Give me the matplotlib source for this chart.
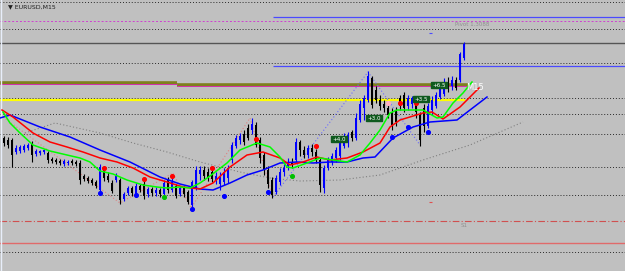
import matplotlib.pyplot as plt
import numpy as np

# EURUSD M15 candles (price)
opens = [1.2971, 1.2969, 1.2969, 1.2957, 1.2958, 1.2959, 1.2961, 1.2966, 1.2955, 1.2956,
         1.2957, 1.2956, 1.2950, 1.2949, 1.2948, 1.2945, 1.2946, 1.2948, 1.2947, 1.2946,
         1.2933, 1.2931, 1.2929, 1.2927, 1.2919, 1.2939, 1.2933, 1.2926, 1.2929, 1.2929,
         1.2910, 1.2916, 1.2921, 1.2914, 1.2923, 1.2925, 1.2915, 1.2920, 1.2916, 1.2919,
         1.2915, 1.2929, 1.2919, 1.2923, 1.2915, 1.2921, 1.2917, 1.2904, 1.2921, 1.2935,
         1.2939, 1.2937, 1.2937, 1.2929, 1.2925, 1.2927, 1.2931, 1.2949, 1.2963, 1.2969,
         1.2975, 1.2981, 1.2979, 1.2984, 1.2969, 1.2954, 1.2939, 1.2929, 1.2917, 1.2927,
         1.2937, 1.2943, 1.2947, 1.2949, 1.2967, 1.2959, 1.2954, 1.2961, 1.2957, 1.2949,
         1.2921, 1.2941, 1.2947, 1.2951, 1.2953, 1.2963, 1.2969, 1.2977, 1.2971, 1.2989,
         1.3001, 1.3009, 1.3031, 1.3019, 1.3009, 1.3005, 1.3001, 1.2997, 1.2999, 1.3011,
         1.3014, 1.3003, 1.3005, 1.3009, 1.2994, 1.3001, 1.2983, 1.2999, 1.3003, 1.3012,
         1.3015, 1.3027, 1.3023, 1.3029, 1.3029, 1.3051]
closes = [1.2966, 1.2964, 1.2954, 1.2961, 1.2962, 1.2963, 1.2964, 1.2954, 1.2958, 1.2958,
          1.2959, 1.2949, 1.2948, 1.2947, 1.2946, 1.2948, 1.2947, 1.2946, 1.2945, 1.2929,
          1.2930, 1.2928, 1.2926, 1.2923, 1.2942, 1.2931, 1.2929, 1.2918, 1.2933, 1.2909,
          1.2915, 1.2921, 1.2916, 1.2923, 1.2919, 1.2913, 1.2920, 1.2916, 1.2919, 1.2915,
          1.2926, 1.2919, 1.2927, 1.2913, 1.2921, 1.2915, 1.2907, 1.2927, 1.2939, 1.2939,
          1.2933, 1.2931, 1.2930, 1.2933, 1.2933, 1.2937, 1.2941, 1.2964, 1.2971, 1.2973,
          1.2967, 1.2971, 1.2985, 1.2964, 1.2951, 1.2939, 1.2925, 1.2914, 1.2931, 1.2937,
          1.2941, 1.2947, 1.2944, 1.2967, 1.2959, 1.2954, 1.2961, 1.2957, 1.2949, 1.2924,
          1.2941, 1.2949, 1.2953, 1.2959, 1.2967, 1.2971, 1.2974, 1.2971, 1.2991, 1.3005,
          1.3011, 1.3033, 1.3004, 1.3009, 1.3003, 1.3001, 1.2994, 1.2984, 1.2987, 1.3003,
          1.3001, 1.3011, 1.3011, 1.2997, 1.2969, 1.2983, 1.3003, 1.3009, 1.3014, 1.3021,
          1.3027, 1.3022, 1.3029, 1.3021, 1.3055, 1.3065]
highs = [1.2973, 1.2972, 1.2971, 1.2964, 1.2964, 1.2965, 1.2966, 1.2968, 1.2960, 1.2959,
         1.2960, 1.2958, 1.2952, 1.2951, 1.2950, 1.2950, 1.2949, 1.2950, 1.2949, 1.2949,
         1.2935, 1.2933, 1.2931, 1.2929, 1.2945, 1.2941, 1.2937, 1.2929, 1.2936, 1.2931,
         1.2917, 1.2923, 1.2923, 1.2926, 1.2925, 1.2928, 1.2922, 1.2922, 1.2922, 1.2921,
         1.2929, 1.2932, 1.2931, 1.2925, 1.2923, 1.2923, 1.2919, 1.2929, 1.2943, 1.2943,
         1.2943, 1.2941, 1.2941, 1.2937, 1.2937, 1.2941, 1.2944, 1.2967, 1.2974, 1.2976,
         1.2979, 1.2985, 1.2991, 1.2987, 1.2972, 1.2957, 1.2943, 1.2932, 1.2934, 1.2941,
         1.2945, 1.2951, 1.2951, 1.2971, 1.2969, 1.2963, 1.2964, 1.2965, 1.2960, 1.2952,
         1.2944, 1.2952, 1.2956, 1.2962, 1.2972, 1.2976, 1.2977, 1.2979, 1.2996, 1.3009,
         1.3014, 1.3038, 1.3033, 1.3023, 1.3014, 1.3009, 1.3004, 1.3001, 1.3002, 1.3014,
         1.3017, 1.3014, 1.3013, 1.3011, 1.2997, 1.3005, 1.3006, 1.3013, 1.3017, 1.3024,
         1.3031, 1.3032, 1.3033, 1.3032, 1.3057, 1.3067]
lows = [1.2963, 1.2961, 1.2942, 1.2955, 1.2956, 1.2957, 1.2959, 1.2947, 1.2953, 1.2954,
        1.2955, 1.2946, 1.2946, 1.2945, 1.2944, 1.2943, 1.2944, 1.2944, 1.2943, 1.2925,
        1.2928, 1.2926, 1.2924, 1.2921, 1.2916, 1.2928, 1.2927, 1.2916, 1.2927, 1.2905,
        1.2908, 1.2914, 1.2913, 1.2912, 1.2917, 1.2910, 1.2912, 1.2913, 1.2913, 1.2912,
        1.2914, 1.2916, 1.2917, 1.2911, 1.2913, 1.2912, 1.2905, 1.2901, 1.2919, 1.2929,
        1.2929, 1.2928, 1.2927, 1.2925, 1.2919, 1.2924, 1.2926, 1.2946, 1.2961, 1.2965,
        1.2964, 1.2969, 1.2975, 1.2962, 1.2946, 1.2934, 1.2921, 1.2911, 1.2915, 1.2924,
        1.2933, 1.2939, 1.2941, 1.2947, 1.2953, 1.2951, 1.2951, 1.2953, 1.2946, 1.2917,
        1.2916, 1.2939, 1.2944, 1.2947, 1.2949, 1.2961, 1.2962, 1.2968, 1.2969, 1.2987,
        1.2989, 1.3007, 1.3001, 1.3006, 1.2999, 1.2997, 1.2991, 1.2979, 1.2983, 1.2999,
        1.2997, 1.2999, 1.3001, 1.2991, 1.2963, 1.2977, 1.2981, 1.2995, 1.3001, 1.3010,
        1.3013, 1.3017, 1.3019, 1.3019, 1.3027, 1.3049]

# alligator lines (bar index, price)
jaw_x = [-1, 1.5, 9, 16.5, 24, 31.5, 39, 44, 49, 52.25, 56.5, 60.75, 64.75, 69, 73.25,
         77.25, 81.5, 85.75, 89.75, 92.75, 97.25, 102.25, 106.5, 113.25, 116.5, 120.75]
jaw_y = [1.2991, 1.2994, 1.2982, 1.2972, 1.2959, 1.2947, 1.2932, 1.2925, 1.2920, 1.2919,
         1.2926, 1.2934, 1.2939, 1.2946, 1.2947, 1.2946, 1.2947, 1.2947, 1.2951, 1.2952,
         1.2971, 1.2982, 1.2987, 1.2989, 1.2999, 1.3012]
teeth_x = [-0.5, 2.25, 7.25, 11.5, 15.75, 19.75, 24, 28.25, 32.25, 36.5, 40.75, 44.75,
           49, 52.25, 56.5, 60.75, 64.75, 69, 71.5, 74.75, 78.25, 81.5, 85.75, 89.75,
           94, 96.5, 99, 104.75, 107, 109.75, 114, 116.5, 118.75]
teeth_y = [1.2999, 1.2992, 1.2976, 1.2967, 1.2962, 1.2957, 1.2951, 1.2947, 1.2941, 1.2932,
           1.2927, 1.2922, 1.2920, 1.2926, 1.2942, 1.2954, 1.2957, 1.2951, 1.2944, 1.2947,
           1.2952, 1.2949, 1.2951, 1.2957, 1.2966, 1.2982, 1.2989, 1.2996, 1.2997, 1.2990,
           1.3002, 1.3012, 1.3021]
lips_x = [-0.25, 1.5, 4, 7.25, 11.5, 15.75, 19, 21.5, 24, 27.25, 30.75, 34.75, 38.25,
          40.75, 44, 46.5, 49, 51.5, 55.75, 59, 63.25, 66.5, 69, 70.75, 72.25, 75.75, 79,
          82.25, 85.75, 89, 91.5, 94, 96.5, 98.25, 101.5, 104.75, 106.5, 108.25, 109.75,
          112.25, 114.75, 117]
lips_y = [1.2997, 1.2986, 1.2976, 1.2964, 1.2958, 1.2954, 1.2951, 1.2947, 1.2938, 1.2935,
          1.2929, 1.2924, 1.2922, 1.2921, 1.2922, 1.2921, 1.2926, 1.2933, 1.2946, 1.2959,
          1.2966, 1.2962, 1.2952, 1.2942, 1.2941, 1.2946, 1.2951, 1.2949, 1.2947, 1.2954,
          1.2966, 1.2979, 1.2996, 1.2999, 1.2999, 1.2999, 1.2995, 1.2991, 1.2992, 1.3006,
          1.3016, 1.3027]
slow_x = [5.25, 12.75, 24, 32.25, 40.75, 49, 59, 66.5, 74, 84, 94, 104.75, 116.5, 129.75]
slow_y = [1.2976, 1.2986, 1.2976, 1.2966, 1.2957, 1.2947, 1.2937, 1.2931, 1.2928, 1.2929,
          1.2934, 1.2949, 1.2964, 1.2987]

# zigzag
zz1_x = [-0.25, 29, 42.25, 46.75, 61.5, 67.25]
zz1_y = [1.2992, 1.2906, 1.2936, 1.2901, 1.2991, 1.2912]
zz2_x = [67.25, 91, 104]
zz2_y = [1.2912, 1.3037, 1.2964]

# fractals
frac_up_x = [25, 35, 42, 52, 63, 78, 99, 103]
frac_up_y = [1.2941, 1.2930, 1.2933, 1.2941, 1.2970, 1.2963, 1.3006, 1.3006]
frac_dn_x = [24, 33, 47, 55, 66, 97, 101, 106]
frac_dn_y = [1.2916, 1.2914, 1.2900, 1.2913, 1.2917, 1.2972, 1.2982, 1.2977]
frac_g_x = [40, 72]
frac_g_y = [1.2912, 1.2933]

# horizontal levels
grid_levels = [1.3107, 1.3080, 1.3046, 1.3011, 1.2995, 1.2975, 1.2942, 1.2914, 1.2857]
pivot = 1.3088
s1 = 1.2888
s2 = 1.2866

# profit labels
lbl_x = [83.75, 92.5, 104.25, 108.75]
lbl_y = [1.2970, 1.2991, 1.3010, 1.3024]
lbl_txt = ['+4.0', '+3.0', '+3.5', '+6.5']

bg = '#c0c0c0'
fig = plt.figure(figsize=(6.25, 2.71), dpi=100, facecolor=bg)
ax = fig.add_axes([0, 0, 1, 1])
ax.set_facecolor(bg)
ax.set_xlim(-1, 155.25)
ax.set_ylim(1.2838, 1.3109)
ax.axis('off')

for lv in grid_levels:
    ax.axhline(lv, color='#2a2a2a', lw=0.7, ls=(0, (1, 2)), zorder=1)
ax.axhline(1.3066, color='#555555', lw=1.0, zorder=1)
ax.axhline(pivot, color='#d040d0', lw=0.7, ls=(0, (2, 2)), zorder=1)
ax.hlines([1.3092, 1.3043], 67.25, 156, color='#4a4aff', lw=0.9, zorder=1)
ax.axhline(s1, color='#d05050', lw=0.8, ls=(0, (6, 2, 1, 2)), zorder=1)
ax.axhline(s2, color='#e06a6a', lw=1.0, zorder=1)

# olive band with thin magenta line, then yellow level
ax.hlines(1.3026, -1, 43.25, color='#7f7f1e', lw=2.6, zorder=2)
ax.hlines(1.3024, 43.25, 116, color='#7f7f1e', lw=2.6, zorder=2)
ax.hlines(1.30248, -1, 43.25, color='#e020c0', lw=0.6, zorder=2)
ax.hlines(1.30228, 43.25, 116, color='#e020c0', lw=0.6, zorder=2)
ax.hlines(1.3009, -1, 115.25, color='#ffff00', lw=1.6, zorder=2)

ax.plot(slow_x, slow_y, color='#808080', lw=0.8, ls=(0, (1, 2)), zorder=2)
ax.plot(zz1_x, zz1_y, color='#e08080', lw=0.8, ls=(0, (1, 2)), zorder=2)
ax.plot(zz2_x, zz2_y, color='#6a6aff', lw=0.8, ls=(0, (1, 2)), zorder=2)

o = np.array(opens)
c = np.array(closes)
x = np.arange(len(o))
cols = np.where(c >= o, '#0000ff', '#000000')
ax.vlines(x, lows, highs, colors=cols, lw=0.8, zorder=3)
ax.bar(x, np.maximum(np.abs(c - o), 0.00012), bottom=np.minimum(o, c), width=0.6,
       color=cols, zorder=3)

ax.plot(jaw_x, jaw_y, color='#0000ff', lw=1.1, zorder=4)
ax.plot(teeth_x, teeth_y, color='#ff0000', lw=1.1, zorder=4)
ax.plot(lips_x, lips_y, color='#00ff00', lw=1.1, zorder=4)

ax.scatter(frac_up_x, frac_up_y, s=7, color='#ff0000', zorder=5)
ax.scatter(frac_dn_x, frac_dn_y, s=7, color='#0000ff', zorder=5)
ax.scatter(frac_g_x, frac_g_y, s=7, color='#00c000', zorder=5)
ax.scatter([96], [1.3006], s=7, color='#ffb0c0', zorder=5)

for lx, ly, t in zip(lbl_x, lbl_y, lbl_txt):
    ax.text(lx, ly, t, fontsize=4, color='white', ha='center', va='center', zorder=6,
            bbox=dict(boxstyle='square,pad=0.15', fc='#0f5a1e', ec='#0f5a1e'))

ax.text(115.5, 1.3022, 'M15', fontsize=6, color='white', va='center', zorder=6)
ax.text(112.75, pivot - 0.0003, 'Pivot 1.3088', fontsize=4, color='#909090', va='center')
ax.text(114.2, s1 - 0.0004, 'S1', fontsize=4, color='#909090', va='center')
ax.hlines(1.2907, 106.2, 106.9, color='#e05050', lw=0.8)
ax.hlines(1.3076, 106.2, 106.9, color='#4a4aff', lw=0.8)
ax.text(0.012, 0.985, '\u25bc EURUSD,M15', fontsize=4.5, color='#202020', va='top',
        transform=ax.transAxes)
ax.axvline(-0.8, color='#e8eefa', lw=1.0)

fig.savefig('out.png', dpi=100, facecolor=bg)
